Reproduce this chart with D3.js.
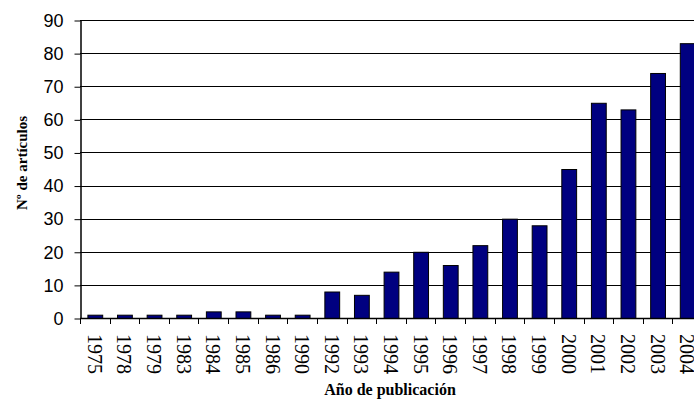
<!DOCTYPE html>
<html><head><meta charset="utf-8">
<script src="https://cdn.jsdelivr.net/npm/d3@7"></script>
<style>body{margin:0;background:#fff}svg{display:block}</style>
</head><body>
<script>
const years = ["1975","1978","1979","1983","1984","1985","1986","1990","1992","1993","1994","1995","1996","1997","1998","1999","2000","2001","2002","2003","2004"];
const counts = [1,1,1,1,2,2,1,1,8,7,14,20,16,22,30,28,45,65,63,74,83];
const yTicks = [0,10,20,30,40,50,60,70,80,90];

(function () {
const W = 694, H = 400;
const mLeft = 80, mTop = 20, mBottom = 318, mRight = 702;
const svg = d3.select("body").append("svg").attr("width", W).attr("height", H);

const x = d3.scaleBand().domain(years).range([mLeft, mRight]).paddingInner(0.5).paddingOuter(0.25);
const xb = d3.scaleBand().domain(years).range([mLeft, mRight]);
const y = d3.scaleLinear().domain([0, 90]).range([mBottom, mTop]);

// gridlines
svg.append("g").selectAll("line").data(yTicks.filter(d => d > 0)).join("line")
  .attr("x1", mLeft).attr("x2", W).attr("y1", d => Math.round(y(d)) + 0.5).attr("y2", d => Math.round(y(d)) + 0.5)
  .attr("stroke", "#000").attr("stroke-width", 1);

// bars
svg.append("g").selectAll("rect").data(counts).join("rect")
  .attr("x", (d, i) => x(years[i]) + 0.5)
  .attr("y", d => y(d) + 0.5)
  .attr("width", x.bandwidth())
  .attr("height", d => mBottom - y(d))
  .attr("fill", "#000080").attr("stroke", "#000").attr("stroke-width", 1);

// y axis
const ya = svg.append("g").attr("transform", `translate(${mLeft + 0.5},0.5)`)
  .call(d3.axisLeft(y).tickValues(yTicks).tickSize(6).tickPadding(11).tickSizeOuter(0));
ya.select(".domain").attr("stroke", "#000").attr("stroke-width", 1.5);
ya.selectAll(".tick line").attr("stroke", "#000");
ya.selectAll(".tick text").attr("font-family", "Liberation Sans, Arial, sans-serif").attr("font-size", 18).attr("fill", "#000");

// x axis line
svg.append("line").attr("x1", mLeft).attr("x2", W).attr("y1", mBottom + 0.5).attr("y2", mBottom + 0.5).attr("stroke", "#000").attr("stroke-width", 1.5);
// x ticks at band boundaries
svg.append("g").selectAll("line").data(years).join("line")
  .attr("x1", d => Math.round(xb(d)) + 0.5).attr("x2", d => Math.round(xb(d)) + 0.5)
  .attr("y1", mBottom).attr("y2", mBottom + 6).attr("stroke", "#000");

// x labels
svg.append("g").selectAll("text").data(years).join("text")
  .attr("transform", d => `translate(${x(d) + x.bandwidth() / 2 - 7},${mBottom + 16}) rotate(90)`)
  .attr("font-family", "Liberation Serif, Times New Roman, serif").attr("font-size", 20)
  .attr("text-anchor", "start").attr("fill", "#000")
  .text(d => d);

// axis titles
svg.append("text").attr("x", 390).attr("y", 395).attr("text-anchor", "middle")
  .attr("font-family", "Liberation Serif, Times New Roman, serif").attr("font-weight", "bold").attr("font-size", 16)
  .text("Año de publicación");
svg.append("text").attr("transform", "translate(27,163) rotate(-90)").attr("text-anchor", "middle")
  .attr("font-family", "Liberation Serif, Times New Roman, serif").attr("font-weight", "bold").attr("font-size", 15)
  .text("Nº de artículos");
})();
</script>
</body></html>
